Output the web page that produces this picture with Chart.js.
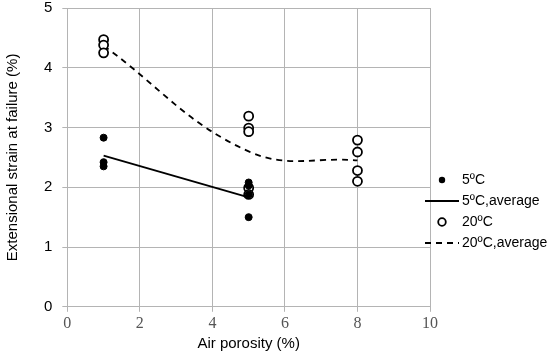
<!DOCTYPE html>
<html>
<head>
<meta charset="utf-8">
<script src="https://cdn.jsdelivr.net/npm/chart.js@4/dist/chart.umd.min.js"></script>
<style>
  html, body { margin: 0; padding: 0; background: #fff; }
  #wrap { width: 550px; height: 357px; }
</style>
</head>
<body>
<div id="wrap"><canvas id="strainChart"></canvas></div>
<script>
// data
const porosity5 = [1, 1, 1, 5, 5, 5, 5];
const strain5 = [2.83, 2.42, 2.35, 2.08, 2.03, 1.88, 1.50];
const avgPorosity5 = [1, 5];
const avgStrain5 = [2.53, 1.83];

const porosity20 = [1, 1, 1, 5, 5, 5, 5, 5, 8, 8, 8, 8];
const strain20 = [4.47, 4.38, 4.25, 3.19, 2.99, 2.93, 1.99, 1.88, 2.79, 2.59, 2.28, 2.10];
const avgPorosity20 = [1, 5, 8];
const avgStrain20 = [4.37, 2.60, 2.45];

const xTicks = [0, 2, 4, 6, 8, 10];
const yTicks = [0, 1, 2, 3, 4, 5];

function toPoints(xs, ys) {
    return xs.map((x, i) => ({ x: x, y: ys[i] }));
}

// small canvases used as legend symbols
function legendSymbol(kind) {
    const c = document.createElement('canvas');
    c.width = 34;
    c.height = 12;
    const g = c.getContext('2d');
    g.strokeStyle = '#000';
    g.fillStyle = '#000';
    if (kind === 'dot') {
        g.beginPath();
        g.arc(17, 6, 3.2, 0, Math.PI * 2);
        g.fill();
    } else if (kind === 'ring') {
        g.lineWidth = 1.8;
        g.beginPath();
        g.arc(17, 6, 3.8, 0, Math.PI * 2);
        g.stroke();
    } else {
        g.lineWidth = 1.8;
        if (kind === 'dash') g.setLineDash([6, 5]);
        g.beginPath();
        g.moveTo(0, 6);
        g.lineTo(34, 6);
        g.stroke();
    }
    return c;
}

const gridColor = '#b4b4b4';
const sans = 'Liberation Sans, Arial, sans-serif';

// push the legend over the plot edge and down, like the original
const legendShift = {
    id: 'legendShift',
    afterLayout(chart) {
        const lg = chart.legend;
        lg.left -= 8;
        lg.right += 10;
        lg.top += 35;
        lg.bottom += 35;
    }
};

new Chart(document.getElementById('strainChart'), {
    type: 'scatter',
    data: {
        datasets: [
            {
                label: '5ºC',
                data: toPoints(porosity5, strain5),
                pointRadius: 3.5,
                pointBackgroundColor: '#000',
                pointBorderColor: '#000',
                pointBorderWidth: 1,
                showLine: false,
                legendSymbol: legendSymbol('dot')
            },
            {
                label: '5ºC,average',
                data: toPoints(avgPorosity5, avgStrain5),
                showLine: true,
                borderColor: '#000',
                borderWidth: 1.8,
                pointRadius: 0,
                legendSymbol: legendSymbol('line')
            },
            {
                label: '20ºC',
                data: toPoints(porosity20, strain20),
                pointRadius: 4.5,
                pointBackgroundColor: '#fff',
                pointBorderColor: '#000',
                pointBorderWidth: 1.8,
                showLine: false,
                legendSymbol: legendSymbol('ring')
            },
            {
                label: '20ºC,average',
                data: toPoints(avgPorosity20, avgStrain20),
                showLine: true,
                borderColor: '#000',
                borderWidth: 1.8,
                borderDash: [6, 5],
                tension: 0.4,
                pointRadius: 0,
                legendSymbol: legendSymbol('dash')
            }
        ]
    },
    options: {
        responsive: true,
        maintainAspectRatio: false,
        animation: false,
        layout: { padding: { left: 4, right: 0, top: 0, bottom: 4 } },
        plugins: {
            legend: {
                position: 'right',
                align: 'center',
                maxWidth: 120,
                labels: {
                    color: '#000',
                    usePointStyle: true,
                    pointStyleWidth: 26,
                    padding: 7,
                    font: { family: sans, size: 14 },
                    generateLabels: function(chart) {
                        return chart.data.datasets.map((ds, i) => ({
                            text: ds.label,
                            datasetIndex: i,
                            fillStyle: '#000',
                            strokeStyle: '#000',
                            lineWidth: 0,
                            pointStyle: ds.legendSymbol,
                            fontColor: '#000',
                            hidden: false
                        }));
                    }
                }
            },
            tooltip: { enabled: false }
        },
        scales: {
            x: {
                type: 'linear',
                min: 0,
                max: 10,
                afterBuildTicks: function(scale) {
                    scale.ticks = xTicks.map(v => ({ value: v }));
                },
                ticks: {
                    color: '#555',
                    padding: 2,
                    font: { family: 'Liberation Serif, serif', size: 16 }
                },
                grid: { color: gridColor, tickLength: 5 },
                border: { color: gridColor },
                title: {
                    display: true,
                    text: 'Air porosity (%)',
                    color: '#000',
                    padding: { top: 0, bottom: 0 },
                    font: { family: sans, size: 15 }
                }
            },
            y: {
                min: 0,
                max: 5,
                afterBuildTicks: function(scale) {
                    scale.ticks = yTicks.map(v => ({ value: v }));
                },
                afterFit: function(scale) {
                    scale.paddingTop = 8;
                },
                ticks: {
                    color: '#000',
                    padding: 10,
                    font: { family: sans, size: 15 }
                },
                grid: { color: gridColor, tickLength: 5 },
                border: { color: gridColor },
                title: {
                    display: true,
                    text: 'Extensional strain at failure (%)',
                    color: '#000',
                    padding: { top: 0, bottom: 12 },
                    font: { family: sans, size: 15 }
                }
            }
        }
    },
    plugins: [legendShift]
});
</script>
</body>
</html>
